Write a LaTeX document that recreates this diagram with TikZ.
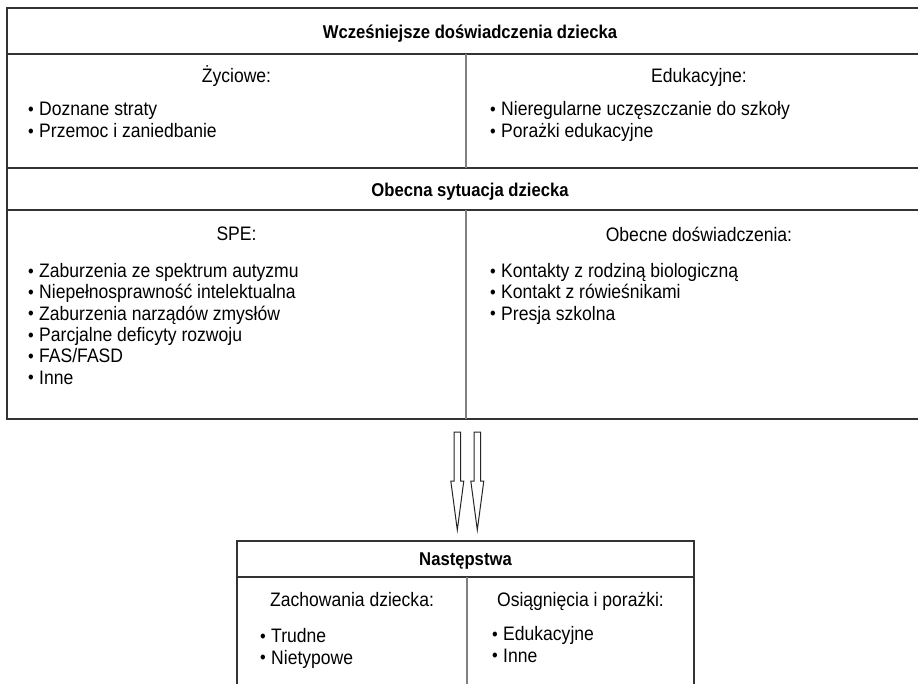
\documentclass[tikz,border=0pt]{standalone}
\usepackage{fontspec}
\setmainfont[FakeStretch=0.9]{Liberation Sans}
\usetikzlibrary{calc}
\newcommand\itm[1]{\makebox[11pt][l]{\raisebox{0.3pt}{\fontsize{18}{18}\selectfont\textbullet}}#1}
\begin{document}
\begin{tikzpicture}[x=1pt,y=-1pt,
  frame/.style={draw=black!80,line width=1.3pt},
  divider/.style={draw=black!50,line width=1.3pt},
  bighead/.style={font=\fontsize{18.5}{21}\selectfont\bfseries,inner sep=0pt,anchor=base},
  subhead/.style={font=\fontsize{19.5}{22}\selectfont,inner sep=0pt,anchor=base},
  item/.style={font=\fontsize{19.5}{22}\selectfont,inner sep=0pt,anchor=base west},
  hollow/.style={draw=black!85,line width=1pt,fill=white}]
\useasboundingbox (0,0) rectangle (918,683);
% upper frame
\draw[frame] (7,8) rectangle (932,419);
\draw[frame] (7,54) -- (932,54);
\draw[frame] (7,168) -- (932,168);
\draw[frame] (7,210) -- (932,210);
\draw[divider] (466,54) -- (466,168);
\draw[divider] (466,210) -- (466,419);
% lower box
\draw[frame] (237,700) -- (237,541) -- (694,541) -- (694,700);
\draw[frame] (237,577) -- (694,577);
\draw[divider] (467,577) -- (467,700);
% texts upper
\node[bighead] (h1) at (470,38) {Wcześniejsze doświadczenia dziecka};
\node[subhead] (s1) at (236.5,82) {Życiowe:};
\node[subhead] (s2) at (699,82) {Edukacyjne:};
\node[item] (l11) at (28,115.7) {\itm{Doznane straty}};
\node[item] (l12) at (28,137.7) {\itm{Przemoc i zaniedbanie}};
\node[item] (r11) at (490,115.7) {\itm{Nieregularne uczęszczanie do szkoły}};
\node[item] (r12) at (490,137.7) {\itm{Porażki edukacyjne}};
\node[bighead] (h2) at (470,196.5) {Obecna sytuacja dziecka};
\node[subhead] (s3) at (236.5,240) {SPE:};
\node[subhead] (s4) at (699,241.5) {Obecne doświadczenia:};
\node[item] (l21) at (28,277.5) {\itm{Zaburzenia ze spektrum autyzmu}};
\node[item] (l22) at (28,298.8) {\itm{Niepełnosprawność intelektualna}};
\node[item] (l23) at (28,320.1) {\itm{Zaburzenia narządów zmysłów}};
\node[item] (l24) at (28,341.4) {\itm{Parcjalne deficyty rozwoju}};
\node[item] (l25) at (28,362.7) {\itm{FAS/FASD}};
\node[item] (l26) at (28,384) {\itm{Inne}};
\node[item] (r21) at (490,277.5) {\itm{Kontakty z rodziną biologiczną}};
\node[item] (r22) at (490,298.8) {\itm{Kontakt z rówieśnikami}};
\node[item] (r23) at (490,320.1) {\itm{Presja szkolna}};
% arrows
\coordinate (a1) at (457.3,432);
\coordinate (a2) at (477.3,432);
\foreach \c in {a1,a2}{
  \draw[hollow] ($(\c)+(-3.3,0)$) -- ($(\c)+(3.3,0)$) -- ($(\c)+(3.3,49)$) -- ($(\c)+(6.5,49)$)
    -- ($(\c)+(0,98)$) -- ($(\c)+(-6.5,49)$) -- ($(\c)+(-3.3,49)$) -- cycle;
}
% texts lower
\node[bighead] (h3) at (465.5,565.5) {Następstwa};
\node[subhead] (s5) at (352,606) {Zachowania dziecka:};
\node[subhead] (s6) at (580.5,606) {Osiągnięcia i porażki:};
\node[item] (b11) at (260,642.5) {\itm{Trudne}};
\node[item] (b12) at (260,664) {\itm{Nietypowe}};
\node[item] (b21) at (492,640.5) {\itm{Edukacyjne}};
\node[item] (b22) at (492,662) {\itm{Inne}};
\end{tikzpicture}
\end{document}
